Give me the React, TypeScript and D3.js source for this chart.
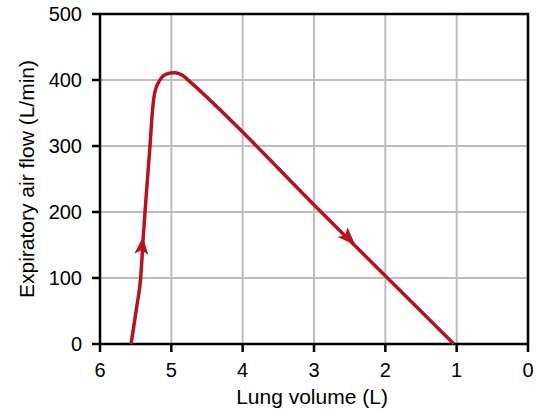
import React from "react";
import * as d3 from "d3";

const volumeTicks = [6, 5, 4, 3, 2, 1, 0];
const flowTicks = [0, 100, 200, 300, 400, 500];

// Flow-volume loop (expiratory limb)
const curveVolume = [5.565, 5.486, 5.43, 5.39, 5.35, 5.30, 5.26, 5.23, 5.16, 5.07, 4.95, 4.83, 4.74, 2.9, 1.04];
const curveFlow = [0, 56, 100, 168, 228, 299, 359, 382, 400, 409, 411, 406, 397.5, 200, 0];

// Direction arrows: [volume, flow] of tip and base
const arrowUp = { tip: [5.398, 162], base: [5.42, 136] };
const arrowDown = { tip: [2.42, 150], base: [2.6, 169.5] };

const W = 536;
const H = 412;
const x0 = 100, x1 = 528, y0 = 344, y1 = 14;

export default function App() {
  const x = d3.scaleLinear().domain([6, 0]).range([x0, x1]);
  const y = d3.scaleLinear().domain([0, 500]).range([y0, y1]);
  const pts: [number, number][] = curveVolume.map((v, i) => [x(v), y(curveFlow[i])]);
  const line = d3.line().curve(d3.curveMonotoneX)(pts) || "";
  const red = "#b3141e";
  const font = "Liberation Sans, Arial, Helvetica, sans-serif";

  const arrowPath = (a: { tip: number[]; base: number[] }) => {
    const tx = x(a.tip[0]), ty = y(a.tip[1]);
    const bx = x(a.base[0]), by = y(a.base[1]);
    const dx = tx - bx, dy = ty - by;
    const len = Math.hypot(dx, dy);
    const ux = dx / len, uy = dy / len;
    const px = -uy, py = ux;
    const hw = 7;
    const notch = 4;
    const nx = bx + ux * notch, ny = by + uy * notch;
    return `M${tx},${ty} L${bx + px * hw},${by + py * hw} L${nx},${ny} L${bx - px * hw},${by - py * hw} Z`;
  };

  return (
    <svg width={W} height={H} style={{ display: "block", position: "absolute", left: 0, top: 0 }}>
      <rect width={W} height={H} fill="#fff" />
      {/* grid */}
      {volumeTicks.filter((t) => t !== 6 && t !== 0).map((t) => (
        <line key={"gx" + t} x1={x(t)} x2={x(t)} y1={y1} y2={y0} stroke="#bdbdbd" strokeWidth={2} />
      ))}
      {flowTicks.filter((t) => t !== 0 && t !== 500).map((t) => (
        <line key={"gy" + t} x1={x0} x2={x1} y1={y(t)} y2={y(t)} stroke="#bdbdbd" strokeWidth={2} />
      ))}
      {/* frame */}
      <rect x={x0} y={y1} width={x1 - x0} height={y0 - y1} fill="none" stroke="#000" strokeWidth={2.5} />
      {/* y ticks */}
      {flowTicks.map((t) => (
        <g key={"ty" + t}>
          <line x1={x0 - 8} x2={x0} y1={y(t)} y2={y(t)} stroke="#000" strokeWidth={2.5} />
          <text x={x0 - 18} y={y(t)} dy="0.36em" textAnchor="end" fontFamily={font} fontSize={20} fill="#000">
            {t}
          </text>
        </g>
      ))}
      {/* x ticks */}
      {volumeTicks.map((t) => (
        <g key={"tx" + t}>
          <line x1={x(t)} x2={x(t)} y1={y0} y2={y0 + 8} stroke="#000" strokeWidth={2.5} />
          <text x={x(t)} y={y0 + 33} textAnchor="middle" fontFamily={font} fontSize={20} fill="#000">
            {t}
          </text>
        </g>
      ))}
      <text x={(x0 + x1) / 2 - 2} y={404} textAnchor="middle" fontFamily={font} fontSize={21} fill="#000">
        Lung volume (L)
      </text>
      <text
        transform={`translate(34,179) rotate(-90)`}
        textAnchor="middle"
        fontFamily={font}
        fontSize={21}
        fill="#000"
      >
        Expiratory air flow (L/min)
      </text>
      {/* curve */}
      <path d={line} fill="none" stroke={red} strokeWidth={3.5} strokeLinejoin="round" />
      <path d={arrowPath(arrowUp)} fill={red} />
      <path d={arrowPath(arrowDown)} fill={red} />
    </svg>
  );
}
